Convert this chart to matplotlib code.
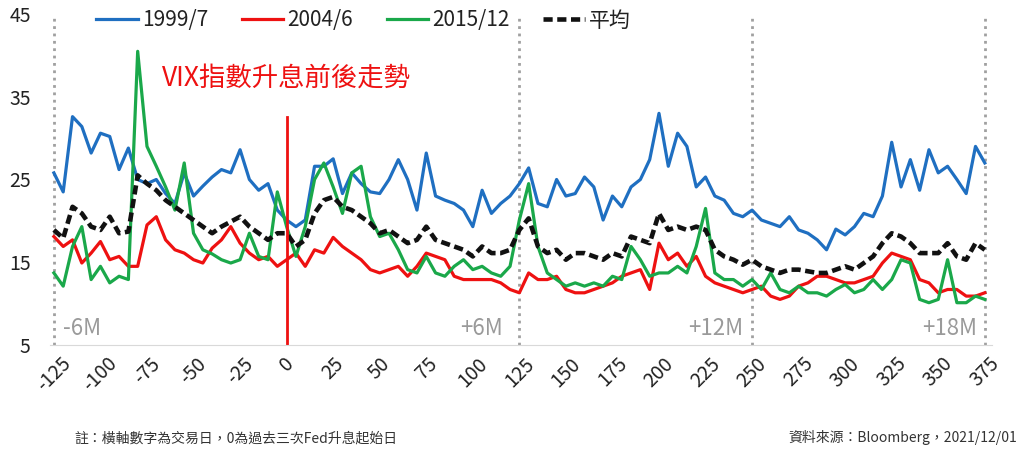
import numpy as np
import matplotlib
matplotlib.use('Agg')
from matplotlib import pyplot as plt

plt.rcParams['font.family'] = ['Noto Sans CJK TC', 'DejaVu Sans']

# trading days relative to the first Fed hike (step of 5 days)
days = np.arange(-125, 376, 5)

vix_1999 = [25.8, 23.5, 32.6, 31.4, 28.2, 30.6, 30.2, 26.2, 28.8, 25.0,
            24.5, 25.0, 23.3, 22.1, 25.8, 23.0, 24.2, 25.3, 26.2, 25.8,
            28.6, 25.0, 23.7, 24.5, 21.3, 20.1, 19.3, 20.1, 26.6, 26.6,
            27.5, 23.3, 25.8, 24.5, 23.5, 23.3, 25.0, 27.4, 25.0, 21.3,
            28.2, 23.0, 22.5, 22.1, 21.3, 19.3, 23.7, 20.9, 22.1, 23.0,
            24.5, 26.4, 22.1, 21.7, 25.0, 23.0, 23.3, 25.3, 24.1, 20.1,
            23.0, 21.7, 24.1, 25.0, 27.4, 33.0, 26.6, 30.6, 29.0, 24.1,
            25.3, 23.0, 22.5, 20.9, 20.5, 21.3, 20.1, 19.7, 19.3, 20.5,
            18.9, 18.5, 17.7, 16.5, 19.0, 18.3, 19.3, 20.9, 20.5, 23.0,
            29.5, 24.1, 27.4, 23.7, 28.6, 25.8, 26.6, 25.0, 23.3, 29.0,
            27.0]

vix_2004 = [18.1, 16.9, 17.7, 14.9, 16.1, 17.5, 15.3, 15.7, 14.5, 14.5,
            19.5, 20.5, 17.7, 16.5, 16.1, 15.3, 14.9, 16.7, 17.7, 19.3,
            17.3, 16.1, 15.3, 15.7, 14.5, 15.3, 16.1, 14.5, 16.5, 16.1,
            18.0, 16.9, 16.1, 15.3, 14.1, 13.7, 14.1, 14.5, 13.3, 14.5,
            16.1, 15.7, 15.3, 13.3, 12.9, 12.9, 12.9, 12.9, 12.5, 11.7,
            11.3, 13.7, 12.9, 12.9, 13.3, 11.7, 11.3, 11.3, 11.7, 12.1,
            12.5, 13.3, 13.7, 14.1, 11.7, 17.3, 15.3, 16.1, 14.5, 15.7,
            13.3, 12.5, 12.1, 11.7, 11.3, 11.7, 12.1, 10.9, 10.5, 10.9,
            12.1, 12.5, 13.3, 13.3, 12.9, 12.5, 12.5, 12.9, 13.3, 14.9,
            16.1, 15.7, 15.3, 12.9, 12.5, 11.3, 11.7, 11.7, 10.9, 10.9,
            11.3]

vix_2015 = [13.7, 12.1, 16.9, 19.3, 12.9, 14.5, 12.5, 13.3, 12.9, 40.5,
            29.0, 26.6, 24.1, 21.3, 27.0, 18.5, 16.5, 16.0, 15.3, 14.9,
            15.3, 18.5, 15.7, 15.3, 23.5, 19.3, 15.7, 19.3, 25.0, 27.0,
            24.1, 20.9, 25.8, 26.6, 20.5, 18.1, 18.5, 16.5, 14.1, 13.7,
            15.7, 13.7, 13.3, 14.5, 15.3, 14.1, 14.5, 13.7, 13.3, 14.5,
            20.1, 24.5, 16.9, 13.7, 12.9, 12.1, 12.5, 12.1, 12.5, 12.1,
            13.3, 12.9, 16.9, 15.3, 13.3, 13.7, 13.7, 14.5, 13.7, 16.9,
            21.5, 13.7, 12.9, 12.9, 12.1, 12.9, 11.7, 13.7, 11.7, 11.3,
            12.1, 11.3, 11.3, 10.9, 11.7, 12.3, 11.3, 11.7, 12.9, 11.7,
            12.9, 15.3, 14.9, 10.5, 10.1, 10.5, 15.3, 10.1, 10.1, 10.9,
            10.5]

vix_avg = [18.9, 17.9, 21.7, 20.9, 19.3, 18.9, 20.5, 18.5, 18.7, 25.5,
           24.5, 23.7, 22.5, 21.7, 20.9, 20.1, 19.3, 18.5, 19.3, 19.9,
           20.5, 19.3, 18.5, 17.7, 18.5, 18.5, 16.9, 17.7, 20.9, 22.5,
           22.9, 21.7, 21.3, 20.5, 19.7, 18.5, 18.9, 18.1, 17.3, 17.7,
           19.3, 17.7, 17.3, 16.9, 16.5, 15.7, 16.9, 16.1, 16.1, 16.5,
           18.9, 20.3, 16.9, 16.1, 16.5, 15.3, 16.1, 16.1, 15.7, 15.3,
           16.1, 15.7, 18.1, 17.7, 17.3, 20.9, 18.9, 19.3, 18.9, 19.3,
           18.9, 16.5, 15.7, 15.3, 14.7, 15.3, 14.5, 14.1, 13.7, 14.1,
           14.1, 13.9, 13.7, 13.7, 14.1, 14.5, 14.1, 14.9, 15.7, 17.3,
           18.5, 18.1, 17.3, 16.1, 16.1, 16.1, 17.3, 15.7, 15.3, 17.3,
           16.5]

xticks = list(range(-125, 376, 25))
yticks = [5, 15, 25, 35, 45]
month_lines = [-125, 125, 250, 375]
month_labels = ['-6M', '+6M', '+12M', '+18M']

fig = plt.figure(figsize=(10.24, 4.55), dpi=100)
ax = fig.add_axes([0.049, 0.242, 0.92, 0.727])

l1, = ax.plot(days, vix_1999, color='#1f6fc1', lw=2.3, label='1999/7')
l2, = ax.plot(days, vix_2004, color='#ee1111', lw=2.3, label='2004/6')
l3, = ax.plot(days, vix_2015, color='#1aa84a', lw=2.3, label='2015/12')
l4, = ax.plot(days, vix_avg, color='#111111', lw=3.3, ls=(0, (2, 1)), label='平均')

# month markers
for m in month_lines:
    ax.axvline(m, color='#a0a0a0', ls=':', lw=2, zorder=0)
ax.plot([0, 0], [5, 32.6], color='#ee1111', lw=2)

ax.text(-120, 7.0, month_labels[0], color='#9a9a9a', fontsize=16, ha='left', va='center')
ax.text(116, 7.0, month_labels[1], color='#9a9a9a', fontsize=16, ha='right', va='center')
ax.text(245, 7.0, month_labels[2], color='#9a9a9a', fontsize=16, ha='right', va='center')
ax.text(371, 7.0, month_labels[3], color='#9a9a9a', fontsize=16, ha='right', va='center')

ax.text(-67, 37.3, 'VIX指數升息前後走勢', color='#ee1111', fontsize=19, ha='left', va='center')

ax.set_xlim(-127, 379)
ax.set_ylim(5, 45)
ax.set_xticks(xticks)
ax.set_xticklabels([str(t) for t in xticks], rotation=45, ha='center', va='top')
ax.set_yticks(yticks)
ax.tick_params(length=0, labelsize=14, colors='#222222')
ax.tick_params(axis='x', pad=6)
ax.tick_params(axis='y', pad=14)
for s in ['top', 'right', 'left']:
    ax.spines[s].set_visible(False)
ax.spines['bottom'].set_color('#d9d9d9')

fig.legend(handles=[l1, l2, l3, l4], loc='center', bbox_to_anchor=(0.355, 0.955),
           ncol=4, frameon=False, fontsize=15, handlelength=2.0, handletextpad=0.2,
           columnspacing=1.6, labelcolor='#222222')

fig.text(0.073, 0.028, '註：橫軸數字為交易日，0為過去三次Fed升息起始日', fontsize=10, color='#333333')
fig.text(0.993, 0.028, '資料來源：Bloomberg，2021/12/01', fontsize=10, color='#333333', ha='right')

fig.savefig('out.png', dpi=100)
